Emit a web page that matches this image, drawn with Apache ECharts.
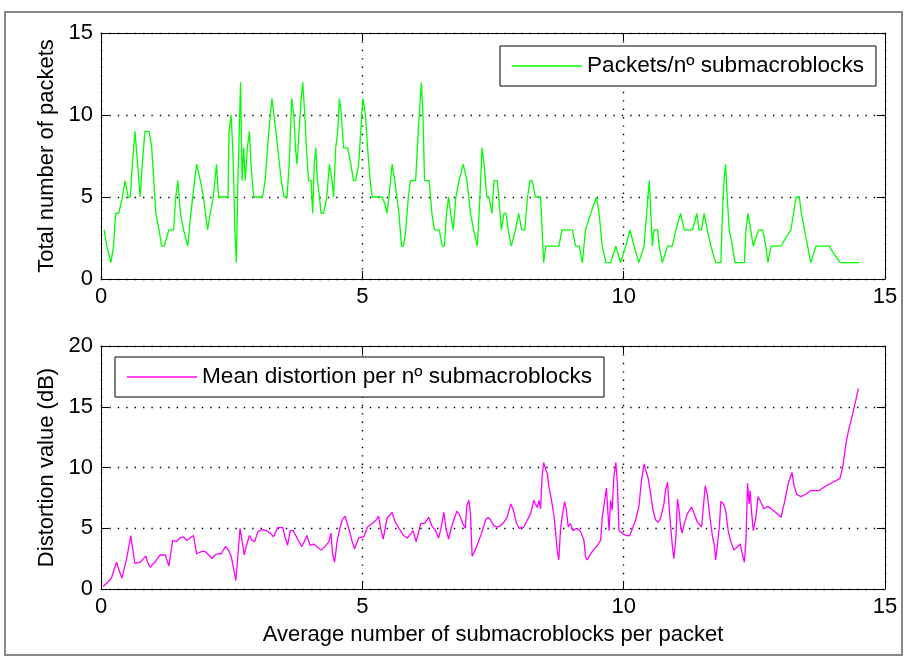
<!DOCTYPE html>
<html>
<head>
<meta charset="utf-8">
<script src="https://cdn.jsdelivr.net/npm/echarts@6/dist/echarts.min.js"></script>
<style>
html,body{margin:0;padding:0;background:#fff;}
#chart{width:904px;height:657px;}
</style>
</head>
<body>
<div id="chart"></div>
<script>
// ---- data ----
const topX = [0.06,0.11,0.19,0.24,0.28,0.34,0.41,0.46,0.52,0.56,0.60,0.65,0.70,0.75,0.79,0.84,0.92,0.97,1.01,1.05,1.11,1.16,1.21,1.30,1.39,1.43,1.47,1.52,1.58,1.66,1.72,1.79,1.83,1.90,1.96,2.00,2.04,2.09,2.15,2.21,2.25,2.34,2.43,2.45,2.49,2.52,2.54,2.56,2.59,2.62,2.67,2.70,2.73,2.76,2.80,2.84,2.87,2.92,3.01,3.09,3.14,3.21,3.27,3.31,3.38,3.45,3.50,3.56,3.60,3.65,3.69,3.72,3.75,3.79,3.83,3.86,3.90,3.93,3.97,4.02,4.05,4.08,4.11,4.14,4.18,4.21,4.26,4.32,4.37,4.42,4.45,4.49,4.53,4.56,4.60,4.64,4.72,4.78,4.83,4.87,4.93,4.97,5.01,5.06,5.10,5.15,5.19,5.28,5.38,5.44,5.47,5.51,5.54,5.57,5.62,5.66,5.70,5.75,5.79,5.83,5.88,5.92,6.02,6.07,6.11,6.13,6.16,6.19,6.28,6.33,6.38,6.47,6.53,6.57,6.61,6.65,6.69,6.74,6.79,6.85,6.93,7.00,7.07,7.13,7.20,7.25,7.29,7.33,7.38,7.42,7.48,7.52,7.58,7.61,7.66,7.71,7.75,7.79,7.85,7.93,7.99,8.05,8.11,8.16,8.21,8.25,8.31,8.41,8.44,8.47,8.51,8.57,8.76,8.82,9.02,9.08,9.15,9.21,9.27,9.37,9.48,9.53,9.59,9.66,9.75,9.85,9.94,10.04,10.12,10.20,10.29,10.39,10.44,10.49,10.52,10.55,10.58,10.65,10.68,10.74,10.84,10.93,11.00,11.09,11.16,11.22,11.32,11.40,11.44,11.49,11.54,11.60,11.67,11.76,11.86,11.89,11.92,11.95,11.98,12.02,12.08,12.13,12.31,12.34,12.38,12.43,12.48,12.53,12.59,12.66,12.72,12.76,12.82,13.01,13.10,13.20,13.30,13.36,13.40,13.49,13.58,13.68,13.76,13.84,13.93,14.03,14.14,14.51];
const topY = [3,2,1,2,4,4,5,6,5,5,7,9,7,5,7,9,9,8,6,4,3,2,2,3,3,5,6,4,3,2,4,6,7,6,5,4,3,4,5,7,5,5,5,9,10,8,6,3,1,6,12,6,8,6,8,9,7,5,5,5,6,9,11,10,8,6,5,5,7,11,10,8,7,9,11,12,10,8,6,6,4,7,8,6,5,4,4,5,7,6,5,8,9,11,10,8,8,7,6,6,7,9,11,10,8,6,5,5,5,4.5,4,5,6,7,6,5,4,2,2,3,5,6,6,9,11,12,10,6,6,4,3,3,2,2,4,5,4,3,5,6,7,6,4,3,2,5,8,7,5,5,4,6,6,5,3,4,4,3,2,3,4,3,3,5,6,6,5,5,3,1,2,2,2,3,3,2,2,1,3,4,5,4,2,1,1,2,1,2,3,2,1,2,4,6,4,2,3,3,2,1,2,2,3,4,3,3,3,4,3,3,4,3,2,1,1,4,6,7,5,3,2,1,1,3,4,3,2,2.5,3,3,2,1,2,2,2.5,3,5,5,4,2.5,1,2,2,2,2,1.5,1,1];

const botX = [0.04,0.14,0.20,0.25,0.30,0.34,0.40,0.45,0.49,0.52,0.57,0.61,0.65,0.75,0.81,0.86,0.89,0.94,1.03,1.13,1.23,1.26,1.30,1.37,1.45,1.51,1.58,1.64,1.70,1.77,1.83,1.93,1.99,2.06,2.12,2.18,2.24,2.30,2.38,2.44,2.49,2.54,2.58,2.62,2.66,2.69,2.74,2.79,2.84,2.89,2.94,3.00,3.07,3.17,3.24,3.30,3.38,3.48,3.52,3.57,3.62,3.68,3.75,3.84,3.89,3.94,4.00,4.07,4.13,4.21,4.29,4.36,4.40,4.43,4.47,4.52,4.57,4.62,4.67,4.74,4.80,4.85,4.93,5.03,5.10,5.19,5.27,5.31,5.36,5.40,5.47,5.57,5.63,5.70,5.79,5.86,5.92,5.97,6.03,6.12,6.19,6.27,6.33,6.40,6.46,6.51,6.56,6.60,6.65,6.70,6.75,6.81,6.86,6.91,6.97,7.00,7.04,7.07,7.10,7.16,7.23,7.29,7.36,7.41,7.45,7.52,7.58,7.64,7.71,7.77,7.84,7.89,7.95,8.00,8.09,8.16,8.22,8.28,8.31,8.35,8.38,8.41,8.44,8.47,8.51,8.54,8.57,8.62,8.67,8.70,8.73,8.76,8.79,8.82,8.87,8.90,8.94,8.98,9.03,9.11,9.18,9.24,9.27,9.30,9.40,9.50,9.56,9.59,9.64,9.67,9.72,9.75,9.78,9.81,9.85,9.88,9.91,9.97,10.04,10.12,10.17,10.23,10.29,10.34,10.39,10.42,10.47,10.52,10.56,10.61,10.66,10.71,10.77,10.80,10.84,10.87,10.90,10.93,10.96,11.00,11.03,11.06,11.09,11.12,11.16,11.22,11.30,11.35,11.41,11.49,11.53,11.56,11.60,11.65,11.70,11.73,11.76,11.79,11.83,11.86,11.91,11.95,12.00,12.05,12.11,12.18,12.23,12.27,12.31,12.34,12.37,12.40,12.42,12.45,12.48,12.53,12.57,12.62,12.68,12.76,12.85,12.94,13.01,13.07,13.15,13.22,13.26,13.31,13.39,13.49,13.58,13.74,13.84,13.97,14.14,14.19,14.25,14.31,14.38,14.44,14.49];
const botY = [0.2,0.6,0.9,1.6,2.2,1.6,0.9,1.8,2.5,3.2,4.4,3.2,2.1,2.2,2.5,2.7,2.2,1.8,2.2,2.8,2.8,2.4,1.9,4.0,3.9,4.2,4.3,4.0,4.2,4.4,2.9,3.1,3.1,2.8,2.5,2.8,2.9,2.9,3.5,3.2,2.7,1.6,0.7,2.8,5.0,4.2,2.8,3.7,4.4,4.0,3.9,4.7,4.9,4.8,4.6,4.3,5.05,5.05,4.3,3.6,4.8,4.8,4.2,3.5,3.9,4.4,3.6,3.7,3.5,3.2,3.5,3.9,4.6,2.9,2.2,4.0,5.0,5.7,6.0,5.0,4.0,3.3,4.2,4.3,5.1,5.4,5.7,6.0,4.8,4.1,5.8,6.3,5.5,5.0,4.4,4.2,4.5,4.8,3.9,5.4,5.4,5.9,5.2,4.8,4.2,5.1,6.3,5.0,4.1,5.0,5.7,6.4,6.1,5.5,5.0,6.9,7.3,6.1,2.7,3.2,4.0,4.7,5.7,5.9,5.7,5.2,5.1,5.2,5.5,5.9,7.0,6.5,5.4,5.0,5.1,5.7,6.2,7.3,7.0,6.7,7.3,6.6,9.3,10.4,9.8,9.5,8.4,7.3,5.9,4.6,3.1,2.4,4.8,5.9,7.2,6.6,5.1,5.4,4.8,5.0,4.7,4.0,2.65,2.4,3.1,3.6,4.0,5.9,7.4,8.3,4.8,7.3,6.5,9.1,10.4,8.7,4.8,4.6,4.4,4.4,5.0,5.7,6.75,8.9,10.3,9.8,9.1,7.7,6.5,5.7,5.5,5.9,7.0,8.1,8.8,6.75,5.1,3.6,2.5,4.3,7.4,6.5,5.1,4.6,5.4,6.2,6.75,6.2,5.5,5.1,7.0,8.5,7.8,5.9,4.3,3.7,2.4,3.5,5.1,7.2,7.0,6.5,4.8,3.9,3.2,3.5,3.7,2.9,2.2,4.0,8.7,7.0,8.1,6.2,4.8,5.9,7.6,7.2,6.6,6.8,6.5,6.2,5.9,7.0,8.7,9.6,8.5,7.8,7.6,7.8,8.1,8.1,8.4,8.7,9.1,10.0,11.9,13.2,14.4,15.5,16.5];

const topName = 'Packets/nº submacroblocks';
const botName = 'Mean distortion per nº submacroblocks';
const xName = 'Average number of submacroblocks per packet';
const topYName = 'Total number of packets';
const botYName = 'Distortion value (dB)';
const xRange = [0, 15];
const topYRange = [0, 15];
const botYRange = [0, 20];
const tickStep = 5;

// ---- chart ----
const FONT = "'Liberation Sans', Arial, sans-serif";
const FS = 22;
const chart = echarts.init(document.getElementById('chart'), null, {renderer: 'canvas'});

function pairs(xs, ys) { return xs.map((x, i) => [x, ys[i]]); }

const dotted = {show: true, lineStyle: {color: '#000', width: 1.4, type: [1.4, 7]}};
function xAx(gi, pos, labels, name) {
  return {
    type: 'value', gridIndex: gi, position: pos, min: xRange[0], max: xRange[1], interval: tickStep,
    axisLine: {show: true, onZero: false, lineStyle: {color: '#000', width: 1}},
    axisTick: {show: true, inside: true, length: 8, lineStyle: {color: '#000'}},
    axisLabel: {show: labels, color: '#000', fontFamily: FONT, fontSize: FS, margin: 7},
    splitLine: pos === 'bottom' ? dotted : {show: false},
    name: name || '', nameLocation: 'middle', nameGap: 35,
    nameTextStyle: {color: '#000', fontFamily: FONT, fontSize: FS}
  };
}
function yAx(gi, pos, range, labels, name) {
  return {
    type: 'value', gridIndex: gi, position: pos, min: range[0], max: range[1], interval: tickStep,
    axisLine: {show: true, onZero: false, lineStyle: {color: '#000', width: 1}},
    axisTick: {show: true, inside: true, length: 8, lineStyle: {color: '#000'}},
    axisLabel: {show: labels, color: '#000', fontFamily: FONT, fontSize: FS, margin: 8},
    splitLine: pos === 'left' ? dotted : {show: false},
    name: name || '', nameLocation: 'middle', nameGap: 40,
    nameTextStyle: {color: '#000', fontFamily: FONT, fontSize: FS}
  };
}

function makeLegend(name, left, top) {
  return {
    show: true, data: [name], left: left, top: top,
    orient: 'horizontal', icon: 'rect', itemWidth: 70, itemHeight: 1.5, itemGap: 0,
    backgroundColor: '#fff', borderColor: '#000', borderWidth: 1,
    padding: [8, 12, 8, 12],
    textStyle: {color: '#000', fontFamily: FONT, fontSize: 22.6, lineHeight: 24}
  };
}

chart.setOption({
  animation: false,
  backgroundColor: '#fff',
  graphic: [{
    type: 'rect', shape: {x: 5, y: 12, width: 897, height: 643},
    style: {fill: null, stroke: '#888', lineWidth: 2}, silent: true, z: -10
  }],
  grid: [
    {left: 101, top: 33, width: 784, height: 246},
    {left: 101, top: 346, width: 784, height: 243}
  ],
  xAxis: [
    xAx(0, 'bottom', true), xAx(0, 'top', false),
    xAx(1, 'bottom', true, xName), xAx(1, 'top', false)
  ],
  yAxis: [
    yAx(0, 'left', topYRange, true, topYName), yAx(0, 'right', topYRange, false),
    yAx(1, 'left', botYRange, true, botYName), yAx(1, 'right', botYRange, false)
  ],
  legend: [
    makeLegend(topName, 500, 46),
    makeLegend(botName, 115, 357)
  ],
  series: [
    {
      name: topName, type: 'line', xAxisIndex: 0, yAxisIndex: 0,
      data: pairs(topX, topY), symbol: 'none',
      lineStyle: {color: '#00ff00', width: 1.3}, itemStyle: {color: '#00ff00'}
    },
    {
      name: botName, type: 'line', xAxisIndex: 2, yAxisIndex: 2,
      data: pairs(botX, botY), symbol: 'none',
      lineStyle: {color: '#ff00ff', width: 1.3}, itemStyle: {color: '#ff00ff'}
    }
  ]
});
</script>
</body>
</html>
